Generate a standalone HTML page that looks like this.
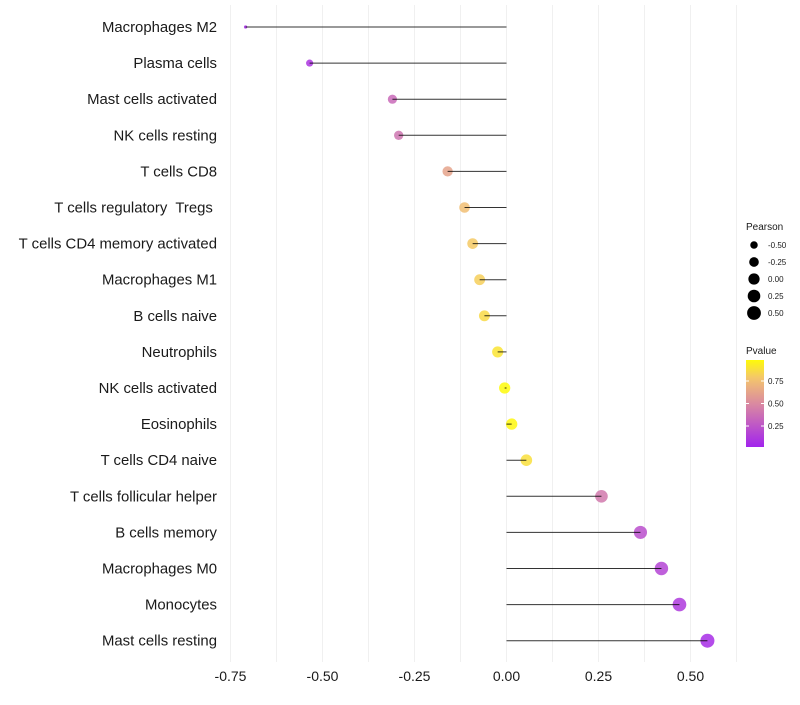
<!DOCTYPE html>
<html><head><meta charset="utf-8"><style>
body{margin:0;background:#fff;font-family:"Liberation Sans",sans-serif}
svg text{font-family:"Liberation Sans",sans-serif;white-space:pre}
</style></head><body>
<svg id="chart" width="800" height="700" xmlns="http://www.w3.org/2000/svg">
<g id="grid"></g>
<g id="marks"></g>
<g id="ylabels"></g>
<g id="xlabels"></g>
<g id="legend"></g>
</svg>
<script>
const categories=["Macrophages M2","Plasma cells","Mast cells activated","NK cells resting","T cells CD8","T cells regulatory  Tregs ","T cells CD4 memory activated","Macrophages M1","B cells naive","Neutrophils","NK cells activated","Eosinophils","T cells CD4 naive","T cells follicular helper","B cells memory","Macrophages M0","Monocytes","Mast cells resting"];
const pearson=[-0.709,-0.535,-0.31,-0.293,-0.16,-0.114,-0.092,-0.073,-0.06,-0.024,-0.005,0.014,0.054,0.258,0.364,0.421,0.47,0.546];
const pvalues=[0.05,0.1,0.35,0.4,0.62,0.75,0.8,0.82,0.86,0.9,0.98,0.97,0.88,0.42,0.22,0.17,0.12,0.06];
const xTicks=[-0.75,-0.5,-0.25,0,0.25,0.5];
const xTickLabels=["-0.75","-0.50","-0.25","0.00","0.25","0.50"];
const sizeLegendVals=[-0.5,-0.25,0,0.25,0.5];
const sizeLegendLabels=["-0.50","-0.25","0.00","0.25","0.50"];
const pLegendVals=[0.75,0.5,0.25];
const pLegendLabels=["0.75","0.50","0.25"];

const NS="http://www.w3.org/2000/svg";
const X=v=>506.5+v*368;
const Y=i=>27+i*36.1;
const R=v=>1.5+5.5*Math.sqrt(Math.max(0,(v+0.71)/1.256));
function lerp(a,b,t){return a+(b-a)*t}
const stops=[[0,[160,32,240]],[0.5,[218,138,160]],[0.78,[244,196,110]],[1,[255,255,0]]];
function col(p){p=Math.max(0,Math.min(1,p));for(let k=1;k<stops.length;k++){if(p<=stops[k][0]){const a=stops[k-1],b=stops[k],t=(p-a[0])/(b[0]-a[0]);return `rgb(${a[1].map((c,j)=>Math.round(lerp(c,b[1][j],t))).join(",")})`;}}return "rgb(255,255,0)";}
function mk(tag,attrs,parent,txt){const e=document.createElementNS(NS,tag);for(const k in attrs)e.setAttribute(k,attrs[k]);if(txt!==undefined)e.textContent=txt;parent.appendChild(e);return e;}
const grid=document.getElementById('grid'),marks=document.getElementById('marks'),yl=document.getElementById('ylabels'),xl=document.getElementById('xlabels'),lg=document.getElementById('legend');
for(let v=-0.75;v<=0.626;v+=0.125){const g=mk('line',{x1:X(v),x2:X(v),y1:5,y2:662,stroke:'#f0f0f0','stroke-width':1},grid);

}
xTicks.forEach((t,i)=>{const e=mk('text',{x:X(t),y:681,'text-anchor':'middle','font-size':14,fill:'#1a1a1a'},xl,xTickLabels[i]);

});
categories.forEach((c,i)=>{
const y=Y(i),v=pearson[i];
const pt=mk('circle',{cx:X(v),cy:y,r:R(v),fill:col(pvalues[i]),'fill-opacity':0.85},marks);


const ln=mk('line',{x1:X(0),x2:X(v),y1:y,y2:y,stroke:'#000','stroke-opacity':0.8,'stroke-width':1},marks);


const t=mk('text',{x:217,y:y+5,'text-anchor':'end','font-size':14.9,fill:'#1a1a1a'},yl,c);


});
const pt1=mk('text',{x:746,y:230,'font-size':10,fill:'#1a1a1a'},lg,'Pearson');


sizeLegendVals.forEach((v,i)=>{const y=245+i*17;
const c=mk('circle',{cx:754,cy:y,r:R(v),fill:'#000'},lg);


const t=mk('text',{x:768,y:y+3,'font-size':8,fill:'#1a1a1a'},lg,sizeLegendLabels[i]);

});
const pt2=mk('text',{x:746,y:354,'font-size':10,fill:'#1a1a1a'},lg,'Pvalue');


const defs=mk('defs',{},lg);const gr=mk('linearGradient',{id:'pg',x1:0,y1:1,x2:0,y2:0},defs);
for(let k=0;k<=10;k++){const p=0.017+k/10*(0.983-0.017);mk('stop',{offset:k/10,'stop-color':col(p)},gr);}
const bar=mk('rect',{x:746,y:360,width:18,height:87,fill:'url(#pg)'},lg);


const PY=p=>447-(p-0.017)/(0.966)*87;
pLegendVals.forEach((p,i)=>{
mk('line',{x1:746,x2:749,y1:PY(p),y2:PY(p),stroke:'#fff'},lg);mk('line',{x1:761,x2:764,y1:PY(p),y2:PY(p),stroke:'#fff'},lg);
const t=mk('text',{x:768,y:PY(p)+3,'font-size':8,fill:'#1a1a1a'},lg,pLegendLabels[i]);

});
</script>
</body></html>
